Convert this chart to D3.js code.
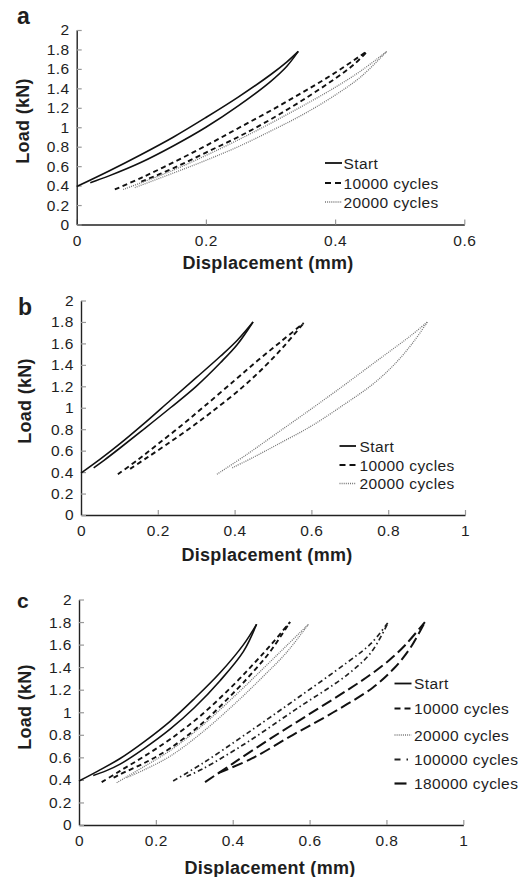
<!DOCTYPE html>
<html>
<head>
<meta charset="utf-8">
<script src="https://cdn.jsdelivr.net/npm/d3@7"></script>
<style>
  html, body { margin: 0; padding: 0; background: #fff; }
  svg { display: block; }
  text { font-family: "Liberation Sans", Arial, Helvetica, sans-serif; fill: #1e1e1e; }
</style>
</head>
<body>
<svg id="chart" width="519" height="877"></svg>
<script>
// ---------------- DATA ----------------
const seriesNames = ["Start", "10000 cycles", "20000 cycles", "100000 cycles", "180000 cycles"];
const yTicks = [0, 0.2, 0.4, 0.6, 0.8, 1, 1.2, 1.4, 1.6, 1.8, 2];
const xTicksA = [0, 0.2, 0.4, 0.6];
const xTicksBC = [0, 0.2, 0.4, 0.6, 0.8, 1];

// Panel a  [displacement (mm), load (kN)] — upper and lower branch of each loop
const a_start_up = [[0,0.39],[0.05,0.55],[0.1,0.72],[0.15,0.9],[0.2,1.1],[0.25,1.31],[0.3,1.54],[0.325,1.67],[0.343,1.78]];
const a_start_lo = [[0.021,0.43],[0.05,0.5],[0.1,0.64],[0.15,0.81],[0.2,1.0],[0.25,1.22],[0.3,1.47],[0.325,1.625],[0.343,1.78]];
const a_10k_up = [[0.059,0.36],[0.1,0.48],[0.15,0.64],[0.2,0.81],[0.25,0.99],[0.3,1.17],[0.35,1.36],[0.4,1.56],[0.451,1.79]];
const a_10k_lo = [[0.1,0.44],[0.15,0.58],[0.2,0.74],[0.25,0.9],[0.3,1.08],[0.35,1.28],[0.4,1.5],[0.43,1.65],[0.451,1.79]];
const a_20k_up = [[0.072,0.36],[0.1,0.43],[0.15,0.56],[0.2,0.71],[0.25,0.87],[0.3,1.04],[0.35,1.22],[0.4,1.41],[0.44,1.58],[0.48,1.78]];
const a_20k_lo = [[0.09,0.38],[0.15,0.53],[0.2,0.66],[0.25,0.8],[0.3,0.96],[0.35,1.13],[0.4,1.33],[0.44,1.52],[0.48,1.78]];

// Panel b
const b_start_up = [[0,0.39],[0.05,0.52],[0.1,0.66],[0.16,0.84],[0.233,1.07],[0.3,1.28],[0.363,1.48],[0.407,1.63],[0.448,1.8]];
const b_start_lo = [[0.033,0.44],[0.06,0.51],[0.1,0.62],[0.16,0.79],[0.233,1.0],[0.3,1.2],[0.363,1.42],[0.407,1.59],[0.448,1.8]];
const b_10k_up = [[0.096,0.38],[0.15,0.52],[0.2,0.66],[0.26,0.83],[0.32,1.01],[0.4,1.255],[0.46,1.44],[0.52,1.615],[0.58,1.79]];
const b_10k_lo = [[0.128,0.43],[0.17,0.53],[0.22,0.65],[0.28,0.8],[0.34,0.96],[0.42,1.19],[0.48,1.39],[0.53,1.58],[0.58,1.79]];
const b_20k_up = [[0.354,0.38],[0.43,0.56],[0.511,0.765],[0.6,0.99],[0.685,1.21],[0.76,1.41],[0.815,1.555],[0.86,1.675],[0.902,1.8]];
const b_20k_lo = [[0.394,0.44],[0.45,0.54],[0.511,0.656],[0.6,0.83],[0.685,1.03],[0.76,1.22],[0.815,1.40],[0.865,1.61],[0.902,1.8]];

// Panel c
const c_start_up = [[0,0.39],[0.05,0.48],[0.107,0.59],[0.17,0.74],[0.237,0.92],[0.3,1.12],[0.367,1.35],[0.428,1.6],[0.462,1.78]];
const c_start_lo = [[0.037,0.44],[0.07,0.48],[0.107,0.54],[0.17,0.68],[0.237,0.85],[0.3,1.04],[0.367,1.28],[0.428,1.54],[0.462,1.78]];
const c_10k_up = [[0.059,0.38],[0.107,0.48],[0.17,0.61],[0.237,0.76],[0.32,0.98],[0.41,1.27],[0.46,1.45],[0.5,1.6],[0.549,1.8]];
const c_10k_lo = [[0.09,0.42],[0.107,0.45],[0.17,0.55],[0.237,0.68],[0.32,0.9],[0.41,1.2],[0.46,1.385],[0.5,1.55],[0.549,1.8]];
const c_20k_up = [[0.098,0.375],[0.17,0.52],[0.237,0.66],[0.32,0.88],[0.41,1.16],[0.48,1.39],[0.54,1.59],[0.597,1.78]];
const c_20k_lo = [[0.124,0.42],[0.17,0.49],[0.237,0.61],[0.32,0.82],[0.41,1.09],[0.48,1.32],[0.54,1.53],[0.597,1.78]];
const c_100k_up = [[0.245,0.39],[0.323,0.55],[0.436,0.81],[0.566,1.12],[0.697,1.44],[0.76,1.61],[0.805,1.8]];
const c_100k_lo = [[0.28,0.43],[0.323,0.5],[0.436,0.73],[0.566,1.03],[0.697,1.33],[0.76,1.53],[0.805,1.8]];
const c_180k_up = [[0.328,0.38],[0.4,0.545],[0.5,0.77],[0.6,0.985],[0.7,1.2],[0.757,1.33],[0.81,1.47],[0.85,1.6],[0.9,1.8]];
const c_180k_lo = [[0.362,0.46],[0.45,0.59],[0.557,0.8],[0.662,1.0],[0.765,1.22],[0.82,1.39],[0.862,1.57],[0.9,1.8]];

// ---------------- STYLES ----------------
const styles = [
  { stroke: "#111", width: 1.6, dash: null,          legendDash: null },           // Start
  { stroke: "#111", width: 1.9, dash: "5,3.5",       legendDash: "6,4" },          // 10000
  { stroke: "#777", width: 1.3, dash: "1,1.1",       legendDash: "1,1.1" },        // 20000
  { stroke: "#222", width: 1.7, dash: "5,3,1.5,3",   legendDash: "6,6,1.5,20" },   // 100000
  { stroke: "#111", width: 2.0, dash: "11,4.5",      legendDash: "12,20" }         // 180000
];

const panels = [
  { letter: "a", xmax: 0.6, xTicks: xTicksA, xr: [76.7, 464.3], yr: [224.5, 30],
    loops: [[a_start_up, a_start_lo], [a_10k_up, a_10k_lo], [a_20k_up, a_20k_lo]],
    letterPos: [17, 24], xTitle: [268, 268.5], yTitle: [29, 121],
    legend: { x1: 325, x2: 342, tx: 343.5, rows: [163, 183, 202] } },
  { letter: "b", xmax: 1, xTicks: xTicksBC, xr: [81, 465], yr: [515, 300.5],
    loops: [[b_start_up, b_start_lo], [b_10k_up, b_10k_lo], [b_20k_up, b_20k_lo]],
    letterPos: [18, 315], xTitle: [267, 561], yTitle: [31, 401],
    legend: { x1: 339.5, x2: 356, tx: 359.5, rows: [446, 465, 483.5] } },
  { letter: "c", xmax: 1, xTicks: xTicksBC, xr: [79, 463.3], yr: [825, 599.5],
    loops: [[c_start_up, c_start_lo], [c_10k_up, c_10k_lo], [c_20k_up, c_20k_lo], [c_100k_up, c_100k_lo], [c_180k_up, c_180k_lo]],
    letterPos: [17, 608], xTitle: [270, 873.5], yTitle: [31, 707],
    legend: { x1: 394.5, x2: 411.5, tx: 414, rows: [683.5, 708.5, 735, 759.5, 783.5] } }
];

// ---------------- DRAW ----------------
const svg = d3.select("#chart");
const fmt = d3.format("~g");

panels.forEach((p, pi) => {
  const x = d3.scaleLinear().domain([0, p.xmax]).range(p.xr);
  const y = d3.scaleLinear().domain([0, 2]).range(p.yr);
  const g = svg.append("g");

  // axes
  const xAxis = d3.axisBottom(x).tickValues(p.xTicks).tickFormat(fmt)
    .tickSizeInner(-5).tickSizeOuter(0).tickPadding(10);
  const yAxis = d3.axisLeft(y).tickValues(yTicks).tickFormat(fmt)
    .tickSizeInner(-5).tickSizeOuter(0).tickPadding(7);

  const gx = g.append("g").attr("transform", `translate(0,${p.yr[0]})`).call(xAxis);
  const gy = g.append("g").attr("transform", `translate(${p.xr[0]},0)`).call(yAxis);
  [gx, gy].forEach(a => {
    a.select(".domain").attr("stroke", "#222").attr("stroke-width", 1.4);
    a.selectAll(".tick line").attr("stroke", "#999").attr("stroke-width", 1.2);
    a.selectAll(".tick text").attr("font-size", 15.5).attr("letter-spacing", 0.5)
      .attr("fill", "#1e1e2a").attr("font-family", "Liberation Sans, Arial, sans-serif");
  });

  // curves
  const line = d3.line().x(d => x(d[0])).y(d => y(d[1])).curve(d3.curveCatmullRom.alpha(0.5));
  p.loops.forEach((branches, si) => {
    const s = styles[si];
    branches.forEach(br => {
      g.append("path").attr("d", line(br))
        .attr("fill", "none").attr("stroke", s.stroke).attr("stroke-width", s.width)
        .attr("stroke-dasharray", s.dash).attr("stroke-linecap", "butt");
    });
  });

  // legend
  p.loops.forEach((_, si) => {
    const s = styles[si];
    const ry = p.legend.rows[si];
    g.append("line").attr("x1", p.legend.x1).attr("x2", p.legend.x2)
      .attr("y1", ry).attr("y2", ry)
      .attr("stroke", s.stroke).attr("stroke-width", s.width + 0.2)
      .attr("stroke-dasharray", s.legendDash);
    g.append("text").attr("x", p.legend.tx).attr("y", ry + 5.5)
      .attr("font-size", 15.5).attr("letter-spacing", 0.4).text(seriesNames[si]);
  });

  // titles
  g.append("text").attr("x", p.xTitle[0]).attr("y", p.xTitle[1])
    .attr("text-anchor", "middle").attr("font-weight", "bold").attr("font-size", 18)
    .attr("letter-spacing", 0.3).text("Displacement (mm)");
  g.append("text").attr("transform", `translate(${p.yTitle[0]},${p.yTitle[1]}) rotate(-90)`)
    .attr("text-anchor", "middle").attr("font-weight", "bold").attr("font-size", 18)
    .attr("letter-spacing", 0.3).text("Load (kN)");
  g.append("text").attr("x", p.letterPos[0]).attr("y", p.letterPos[1])
    .attr("font-weight", "bold").attr("font-size", pi === 2 ? 21 : 23).text(p.letter);
});
</script>
</body>
</html>
